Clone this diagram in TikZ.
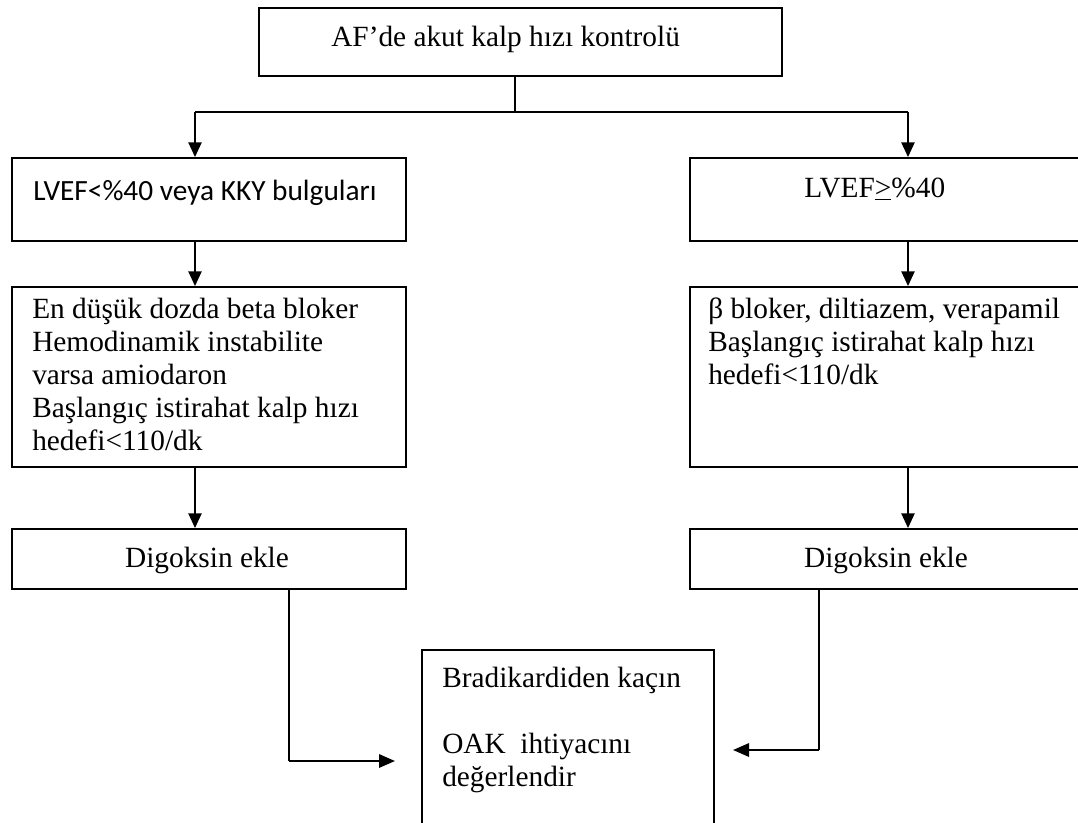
\documentclass[tikz,border=0pt]{standalone}
\usepackage{fontspec}
\setmainfont{Liberation Serif}
\newfontfamily\calfont{Carlito}
\usetikzlibrary{arrows.meta}
\begin{document}
\begin{tikzpicture}[x=0.75pt,y=-0.75pt,
  box/.style={draw, line width=1.3pt, inner sep=0pt, anchor=north west},
  txt/.style={inner sep=0pt, anchor=base west, font=\fontsize{22}{25}\selectfont},
  ctxt/.style={inner sep=0pt, anchor=base, font=\fontsize{22}{25}\selectfont},
  conn/.style={line width=1pt},
  arr/.style={line width=1pt, -{Triangle[length=11pt,width=10pt]}},
  barr/.style={line width=1.6pt, -{Triangle[length=12pt,width=10pt]}},
]
\clip (0,0) rectangle (1078,822);
\fill[white] (0,0) rectangle (1078,822);

% boxes
\node[box, minimum width=392.25pt, minimum height=51pt] (top) at (258,7) {};
\node[box, minimum width=295.5pt, minimum height=62.25pt] (A) at (11,157) {};
\node[box, minimum width=296.25pt, minimum height=62.25pt] (B) at (689,157) {};
\node[box, minimum width=295.5pt, minimum height=135pt] (C) at (11,286) {};
\node[box, minimum width=296.25pt, minimum height=135pt] (D) at (689,286) {};
\node[box, minimum width=295.5pt, minimum height=45pt] (E) at (11,528) {};
\node[box, minimum width=296.25pt, minimum height=45pt] (F) at (689,528) {};
\node[box, minimum width=219pt, minimum height=135.75pt] (G) at (421,649) {};

% texts
\node[txt] (ttop) at (331,46) {AF’de akut kalp hızı kontrolü};
\node[txt, font=\calfont\fontsize{22}{25}\selectfont] (tA) at (33,200) {LVEF<\%40 veya KKY bulguları};
\node[txt] (tB) at (804,197) {LVEF\underline{>}\%40};
\node[txt] (c1) at (32,318) {En düşük dozda beta bloker};
\node[txt] (c2) at (32,351) {Hemodinamik instabilite};
\node[txt] (c3) at (32,384) {varsa amiodaron};
\node[txt] (c4) at (32,417) {Başlangıç istirahat kalp hızı};
\node[txt] (c5) at (32,450) {hedefi<110/dk};
\node[txt] (d1) at (708,318) {β bloker, diltiazem, verapamil};
\node[txt] (d2) at (708,351) {Başlangıç istirahat kalp hızı};
\node[txt] (d3) at (708,384) {hedefi<110/dk};
\node[ctxt] (tE) at (207,567) {Digoksin ekle};
\node[ctxt] (tF) at (886,567) {Digoksin ekle};
\node[txt] (g1) at (442,687) {Bradikardiden kaçın};
\node[txt] (g2) at (442,753) {OAK\ \ ihtiyacını};
\node[txt] (g3) at (442,786) {değerlendir};

% connectors
\coordinate (j) at (515,112);
\coordinate (jl) at (195,112);
\coordinate (jr) at (908,112);
\draw[conn] (top.south -| j) -- (j);
\draw[conn] (jl) -- (jr);
\draw[arr] (jl) -- (jl |- A.north);
\draw[arr] (jr) -- (jr |- B.north);
\draw[arr] (jl |- A.south) -- (jl |- C.north);
\draw[arr] (jr |- B.south) -- (jr |- D.north);
\draw[arr] (jl |- C.south) -- (jl |- E.north);
\draw[arr] (jr |- D.south) -- (jr |- F.north);

\coordinate (el) at (289,761);
\coordinate (et) at (395,761);
\coordinate (fr) at (819,750);
\coordinate (ft) at (733,750);
\draw[conn] (el |- E.south) -- (el);
\draw[barr] (el) -- (et);
\draw[conn] (fr |- F.south) -- (fr);
\draw[barr] (fr) -- (ft);
\end{tikzpicture}
\end{document}
